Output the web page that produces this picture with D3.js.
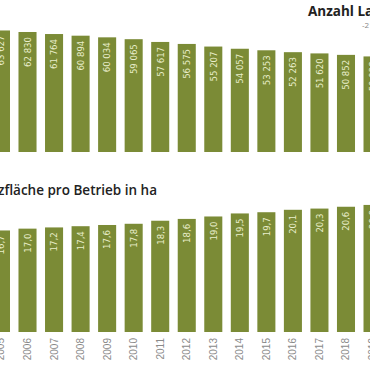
<!DOCTYPE html>
<html>
<head>
<meta charset="utf-8">
<script src="https://cdn.jsdelivr.net/npm/d3@7"></script>
<style>
  body { margin: 0; background: #fff; }
  svg { display: block; }
  .val { font-family: "Liberation Sans Narrow", "DejaVu Sans Condensed", sans-serif; font-size: 9.5px; fill: #e9eecb; }
  .year { font-family: "Liberation Sans", sans-serif; font-size: 10px; fill: #8a8a8a; }
  .title { font-family: "Open Sans", sans-serif; font-weight: 700; fill: #222; }
</style>
</head>
<body>
<div id="chart"></div>
<script>
'use strict';

const years = ['2005', '2006', '2007', '2008', '2009', '2010', '2011', '2012',
  '2013', '2014', '2015', '2016', '2017', '2018', '2019'];
const farms = [63627, 62830, 61764, 60894, 60034, 59065, 57617, 56575,
  55207, 54057, 53253, 52263, 51620, 50852, 50038];
const areaPerFarm = [16.7, 17.0, 17.2, 17.4, 17.6, 17.8, 18.3, 18.6,
  19.0, 19.5, 19.7, 20.1, 20.3, 20.6, 20.9];

const width = 370;
const height = 370;
const green = '#7b8b36';

const locale = d3.formatLocale({ decimal: ',', thousands: ' ', grouping: [3], currency: ['', ''] });
const fmtInt = locale.format(',d');
const fmtDec = locale.format('.1f');

const svg = d3.select('#chart')
  .append('svg')
  .attr('width', width)
  .attr('height', height);

// the picture is a crop, so the band range runs past both edges
const x = d3.scaleBand()
  .domain(years)
  .range([-12.3, 385.8])
  .paddingInner(0.32)
  .paddingOuter(0.16);

const yTop = d3.scaleLinear().domain([0, 70000]).range([152, 18.3]);
const yBottom = d3.scaleLinear().domain([0, 25]).range([332, 180]);

function drawBars(values, y, fmt) {
  const g = svg.append('g');
  const data = years.map((yr, i) => ({ year: yr, value: values[i] }));

  g.selectAll('rect')
    .data(data)
    .enter()
    .append('rect')
    .attr('x', d => x(d.year))
    .attr('y', d => y(d.value))
    .attr('width', x.bandwidth())
    .attr('height', d => y(0) - y(d.value))
    .attr('fill', green);

  // vertical labels, reading bottom to top, just under the bar top
  g.selectAll('g.lbl')
    .data(data)
    .enter()
    .append('g')
    .attr('class', 'lbl')
    .attr('transform', d => 'translate(' + (x(d.year) + x.bandwidth() / 2) + ',' + (y(d.value) + 5) + ')')
    .append('text')
    .attr('class', 'val')
    .attr('transform', 'rotate(-90)')
    .attr('text-anchor', 'end')
    .attr('dy', '0.35em')
    .text(d => fmt(d.value));
}

drawBars(farms, yTop, fmtInt);
drawBars(areaPerFarm, yBottom, fmtDec);

// year axis below the lower chart
svg.append('g')
  .selectAll('g')
  .data(years)
  .enter()
  .append('g')
  .attr('transform', d => 'translate(' + (x(d) + x.bandwidth() / 2) + ',338)')
  .append('text')
  .attr('class', 'year')
  .attr('transform', 'rotate(-90)')
  .attr('text-anchor', 'end')
  .attr('dy', '0.35em')
  .text(d => d);

// titles
svg.append('text')
  .attr('class', 'title')
  .attr('x', 308)
  .attr('y', 16)
  .style('font-size', '13.5px')
  .text('Anzahl Landwirtschaftsbetriebe');

svg.append('text')
  .attr('x', 362)
  .attr('y', 28)
  .style('font-family', '"Open Sans", sans-serif')
  .style('font-size', '8px')
  .style('fill', '#888')
  .text('-21,4 %');

svg.append('text')
  .attr('class', 'title')
  .attr('x', 157)
  .attr('y', 195)
  .attr('text-anchor', 'end')
  .style('font-size', '13.5px')
  .style('font-weight', 600)
  .text('Landwirtschaftliche Nutzfläche pro Betrieb in ha');
</script>
</body>
</html>
